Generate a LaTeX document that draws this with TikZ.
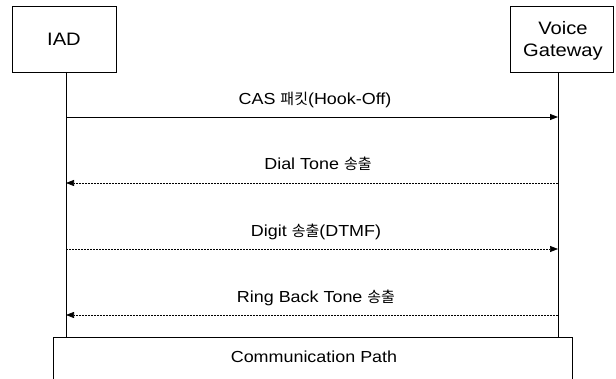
\documentclass[tikz,border=0pt]{standalone}
\usepackage{fontspec}
\setmainfont{Liberation Sans}[FakeStretch=1.12]
\newfontfamily\kr{Noto Sans CJK KR}
\newcommand{\hg}[1]{{\kr\fontsize{15}{17}\selectfont #1}}
\usetikzlibrary{arrows.meta}
\begin{document}
\begin{tikzpicture}[x=1pt,y=-1pt,
  actor/.style={draw,line width=0.9pt,inner sep=0pt,align=center,font=\fontsize{18}{22}\selectfont},
  msg/.style={line width=0.8pt,-{Triangle[length=8pt,width=6pt]}},
  ret/.style={line width=0.7pt,dash pattern=on 2pt off 1pt,-{Triangle[length=8pt,width=6pt]}},
  lbl/.style={font=\fontsize{16}{19}\selectfont,inner sep=0pt},
  life/.style={line width=0.9pt}]
\useasboundingbox (0,0) rectangle (616,379);
\node[actor,minimum width=104pt,minimum height=66pt] (iad) at (64,39) {IAD};
\node[actor,minimum width=103pt,minimum height=66pt] (vg) at (561.5,39.5) {};
\node[font=\fontsize{18}{22}\selectfont,align=center,inner sep=0pt] (vgt) at (563,41) {Voice\\Gateway};
\coordinate (pl) at (53,379);
\coordinate (ptl) at (53,337);
\coordinate (ptr) at (572,337);
\coordinate (pr) at (572,379);
\draw[line width=0.9pt] (pl) -- (ptl) -- (ptr) -- (pr);
\node[lbl] (cp) at (314,357) {Communication Path};
\coordinate (la) at (66,337);
\coordinate (lb) at (558,337);
\draw[life] (66,72) -- (la);
\draw[life] (558,72.5) -- (lb);
\coordinate (a1) at (66,117); \coordinate (b1) at (558,117);
\coordinate (a2) at (66,183); \coordinate (b2) at (558,183);
\coordinate (a3) at (66,249); \coordinate (b3) at (558,249);
\coordinate (a4) at (66,315); \coordinate (b4) at (558,315);
\draw[msg] (a1) -- (b1);
\draw[ret] (b2) -- (a2);
\draw[ret] (a3) -- (b3);
\draw[ret] (b4) -- (a4);
\node[lbl] (l1) at (315,100) {CAS \hg{패킷}(Hook-Off)};
\node[lbl] (l2) at (318,164) {Dial Tone \hg{송출}};
\node[lbl] (l3) at (316,232) {Digit \hg{송출}(DTMF)};
\node[lbl] (l4) at (316,298) {Ring Back Tone \hg{송출}};
\end{tikzpicture}
\end{document}
